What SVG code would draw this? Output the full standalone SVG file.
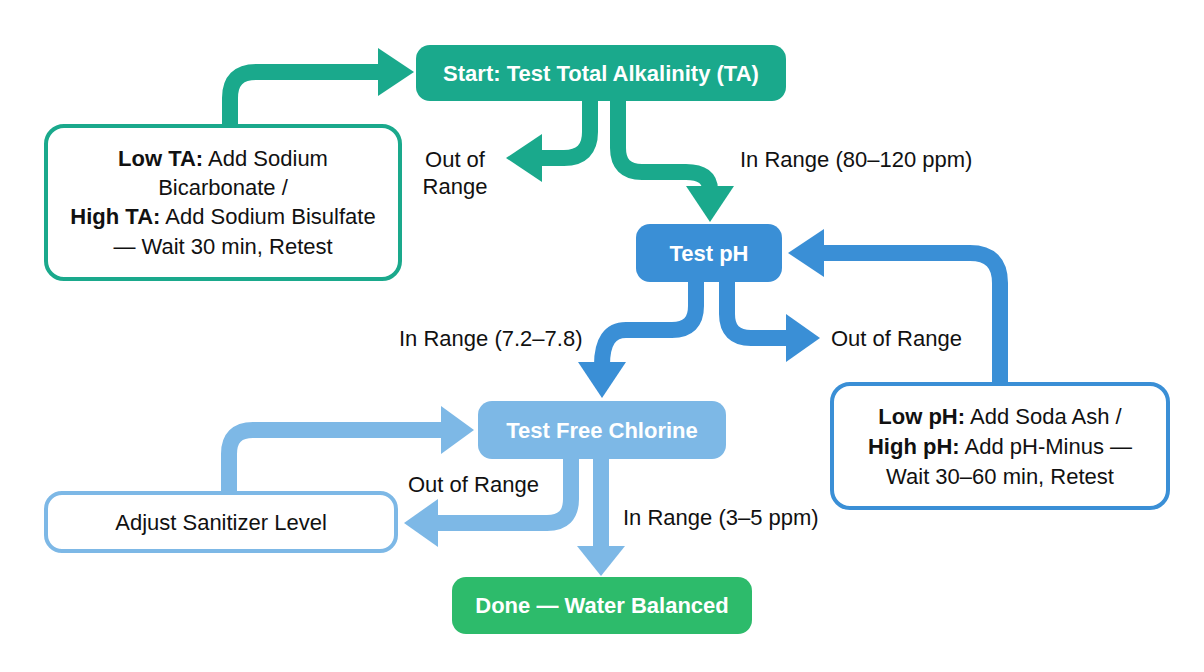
<svg xmlns="http://www.w3.org/2000/svg" width="1204" height="672" viewBox="0 0 1204 672">
<style>
text{font-family:"Liberation Sans",Arial,sans-serif;font-size:22px;fill:#111}
.w{fill:#fff;font-weight:bold;text-anchor:middle}
.c{text-anchor:middle}
.b{font-weight:bold}
.ln{fill:none;stroke-width:16;stroke-linejoin:round}
.t{stroke:#1aa98c}.tf{fill:#1aa98c}
.bl{stroke:#3a8fd6}.bf{fill:#3a8fd6}
.lb{stroke:#7db8e6}.lf{fill:#7db8e6}
</style>
<rect width="1204" height="672" fill="#fff"/>
<g id="connectors">
<path class="ln t" d="M230,124 V98 Q230,72 256,72 H384"/>
<polygon class="tf" points="378,48 378,96 414,72"/>
<path class="ln t" d="M590,101 V132 Q590,158 564,158 H536"/>
<polygon class="tf" points="542,134 542,182 506,158"/>
<path class="ln t" d="M618,101 V148 Q618,172 642,172 H686 Q710,172 710,190"/>
<polygon class="tf" points="686,186 734,186 710,222"/>
<path class="ln bl" d="M696,282 V306 Q696,330 672,330 H626 Q602,330 602,365"/>
<polygon class="bf" points="578,362 626,362 602,398"/>
<path class="ln bl" d="M727,282 V314 Q727,338 751,338 H790"/>
<polygon class="bf" points="786,314 786,362 820,338"/>
<path class="ln bl" d="M1000,382 V283 Q1000,253 970,253 H820"/>
<polygon class="bf" points="824,229 824,277 788,253"/>
<path class="ln lb" d="M229,491 V454 Q229,430 253,430 H446"/>
<polygon class="lf" points="441,406 441,454 474,430"/>
<path class="ln lb" d="M571,459 V499 Q571,523 547,523 H432"/>
<polygon class="lf" points="438,499 438,547 404,523"/>
<path class="ln lb" d="M601,459 V550"/>
<polygon class="lf" points="577,546 625,546 601,576"/>
</g>
<g id="start"><rect x="416" y="45" width="370" height="56" rx="14" class="tf"/><text class="w" x="601" y="81">Start: Test Total Alkalinity (TA)</text></g>
<g id="lowta"><rect x="46" y="126" width="354" height="153" rx="18" fill="#fff" stroke="#1aa98c" stroke-width="4"/>
<text class="c" x="223" y="166"><tspan class="b">Low TA:</tspan> Add Sodium</text>
<text class="c" x="223" y="195">Bicarbonate /</text>
<text class="c" x="223" y="224"><tspan class="b">High TA:</tspan> Add Sodium Bisulfate</text>
<text class="c" x="223" y="254">— Wait 30 min, Retest</text></g>
<g id="ph"><rect x="636" y="224" width="146" height="58" rx="14" class="bf"/><text class="w" x="709" y="261">Test pH</text></g>
<g id="phfix"><rect x="832" y="384" width="336" height="124" rx="18" fill="#fff" stroke="#3a8fd6" stroke-width="4"/>
<text class="c" x="1000" y="424"><tspan class="b">Low pH:</tspan> Add Soda Ash /</text>
<text class="c" x="1000" y="454"><tspan class="b">High pH:</tspan> Add pH-Minus —</text>
<text class="c" x="1000" y="484">Wait 30–60 min, Retest</text></g>
<g id="fc"><rect x="478" y="401" width="248" height="58" rx="14" class="lf"/><text class="w" x="602" y="438">Test Free Chlorine</text></g>
<g id="adjust"><rect x="46" y="493" width="350" height="58" rx="16" fill="#fff" stroke="#7db8e6" stroke-width="4"/><text class="c" x="221" y="530">Adjust Sanitizer Level</text></g>
<g id="done"><rect x="452" y="577" width="300" height="57" rx="14" fill="#2dbb6b"/><text class="w" x="602" y="613">Done — Water Balanced</text></g>
<g id="labels">
<text class="c" x="455" y="167">Out of</text>
<text class="c" x="455" y="194">Range</text>
<text x="740" y="167">In Range (80–120 ppm)</text>
<text x="399" y="346">In Range (7.2–7.8)</text>
<text x="831" y="346">Out of Range</text>
<text x="408" y="492">Out of Range</text>
<text x="623" y="525">In Range (3–5 ppm)</text>
</g>
</svg>
